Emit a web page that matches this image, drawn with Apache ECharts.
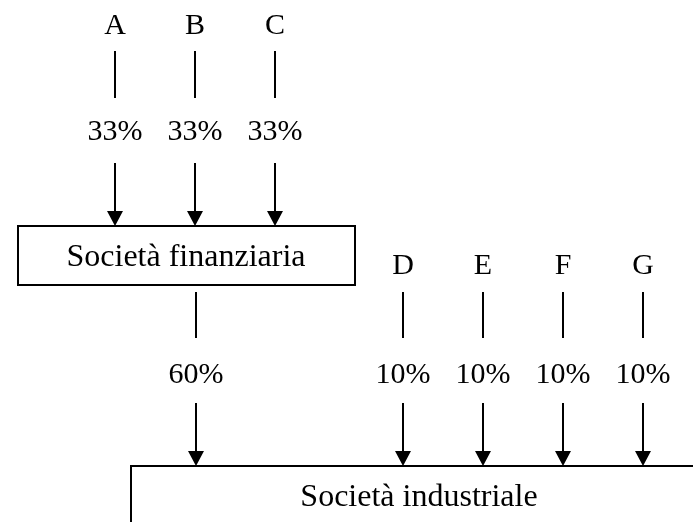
<!DOCTYPE html>
<html>
<head>
<meta charset="utf-8">
<script src="https://cdn.jsdelivr.net/npm/echarts@6/dist/echarts.min.js"></script>
<style>
html, body { margin: 0; padding: 0; background: #fff; }
#chart { width: 693px; height: 522px; }
</style>
</head>
<body>
<div id="chart"></div>
<script>
// owners and stakes
var upperOwners = ['A', 'B', 'C'];
var upperStakes = ['33%', '33%', '33%'];
var lowerOwners = ['D', 'E', 'F', 'G'];
var lowerStakes = ['10%', '10%', '10%', '10%'];
var holdingName = 'Società finanziaria';
var holdingStake = '60%';
var targetName = 'Società industriale';

// layout (page pixels, y down)
var upperCols = [115, 195, 275];
var lowerCols = [403, 483, 563, 643];
var holdingCol = 196;
var rows = [
    {label: 26, stemTop: 51, stemBottom: 98, pct: 132, arrowTop: 163, tip: 226},
    {label: 266, stemTop: 292, stemBottom: 338, pct: 375, arrowTop: 403, tip: 466}
];
var boxes = [
    {name: holdingName, x0: 18, y0: 226, x1: 355, y1: 285, tx: 186, ty: 258},
    {name: targetName, x0: 131, y0: 466, x1: 740, y1: 580, tx: 419, ty: 498}
];

var font = '"Liberation Serif", "Times New Roman", serif';

function txt(s, pt, size) {
    return {type: 'text', style: {text: s, x: pt[0], y: pt[1], fontSize: size, fontFamily: font,
        fill: '#000', align: 'center', verticalAlign: 'middle'}};
}

function buildColumns() {
    var cols = [];
    upperOwners.forEach(function (o, i) {
        cols.push({owner: o, stake: upperStakes[i], x: upperCols[i], row: 0});
    });
    cols.push({owner: '', stake: holdingStake, x: holdingCol, row: 1});
    lowerOwners.forEach(function (o, i) {
        cols.push({owner: o, stake: lowerStakes[i], x: lowerCols[i], row: 1});
    });
    return cols;
}
var columns = buildColumns();

function renderColumn(params, api) {
    var c = columns[params.dataIndex];
    var r = rows[c.row];
    var p = function (y) { return api.coord([c.x, y]); };
    var s0 = p(r.stemTop), s1 = p(r.stemBottom);
    var a0 = p(r.arrowTop), tip = p(r.tip);
    var lineStyle = {stroke: '#000', lineWidth: 2};
    var children = [
        {type: 'line', shape: {x1: s0[0], y1: s0[1], x2: s1[0], y2: s1[1]}, style: lineStyle},
        {type: 'line', shape: {x1: a0[0], y1: a0[1], x2: tip[0], y2: tip[1] - 12}, style: lineStyle},
        {type: 'polygon', shape: {points: [[tip[0] - 8, tip[1] - 15], [tip[0] + 8, tip[1] - 15], [tip[0], tip[1]]]},
            style: {fill: '#000'}},
        txt(c.stake, p(r.pct), 30)
    ];
    if (c.owner) children.push(txt(c.owner, p(r.label), 30));
    return {type: 'group', children: children};
}

function renderBox(params, api) {
    var b = boxes[params.dataIndex];
    var tl = api.coord([b.x0, b.y0]), br = api.coord([b.x1, b.y1]);
    return {type: 'group', children: [
        {type: 'rect', shape: {x: tl[0], y: tl[1], width: br[0] - tl[0], height: br[1] - tl[1]},
            style: {fill: '#fff', stroke: '#000', lineWidth: 2}},
        txt(b.name, api.coord([b.tx, b.ty]), 32)
    ]};
}

var chart = echarts.init(document.getElementById('chart'));
chart.setOption({
    animation: false,
    backgroundColor: '#fff',
    grid: {left: 0, right: 0, top: 0, bottom: 0},
    xAxis: {type: 'value', min: 0, max: 693, show: false},
    yAxis: {type: 'value', min: 0, max: 522, inverse: true, show: false},
    series: [
        {type: 'custom', renderItem: renderBox, clip: false,
            data: boxes.map(function (b) { return [b.x0, b.y0]; })},
        {type: 'custom', renderItem: renderColumn, clip: false,
            data: columns.map(function (c) { return [c.x, rows[c.row].label]; })}
    ]
});
</script>
</body>
</html>
